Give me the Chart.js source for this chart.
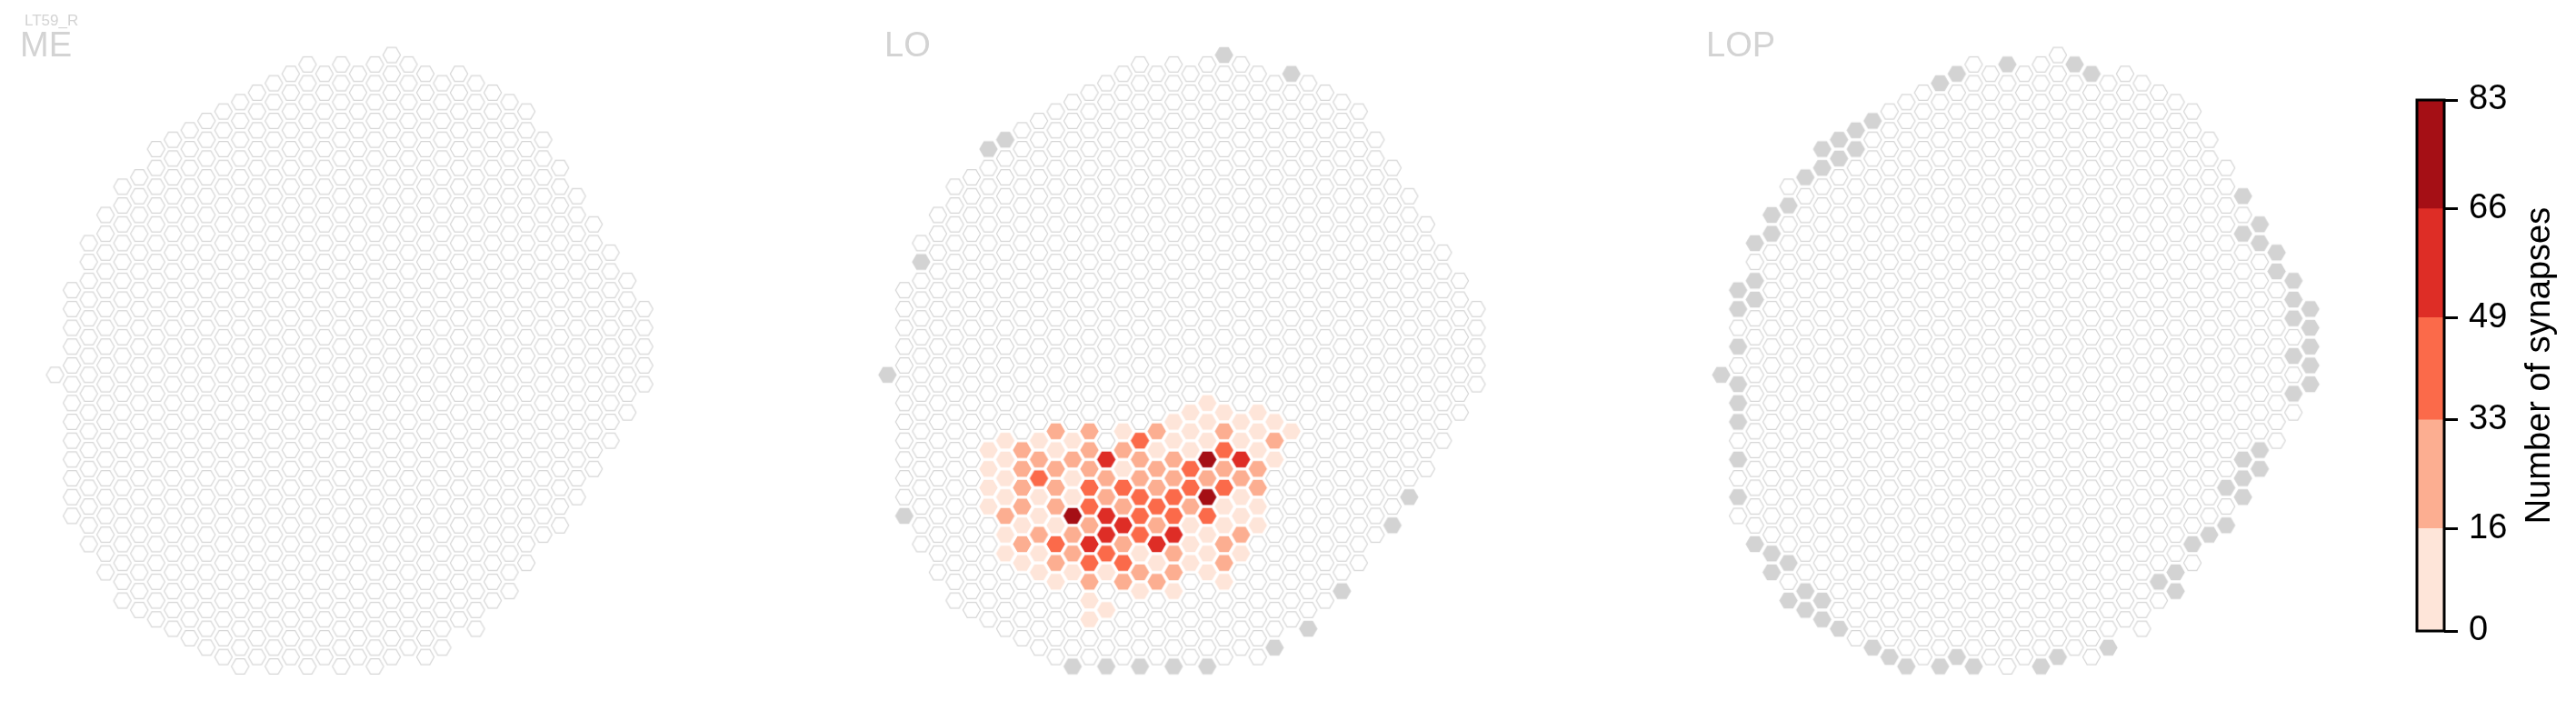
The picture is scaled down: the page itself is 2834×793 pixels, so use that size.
<!DOCTYPE html>
<html>
<head>
<meta charset="utf-8">
<script src="https://cdn.jsdelivr.net/npm/chart.js@4.4.1/dist/chart.umd.min.js"></script>
<style>
  html, body { margin: 0; padding: 0; background: #fff; }
  #wrap { position: relative; width: 2834px; height: 793px; overflow: hidden; }
  #hexes { position: absolute; left: 0; top: 0; }
  #cbar { position: absolute; left: 2600px; top: 0; }
</style>
</head>
<body>
<div id="wrap">
  <canvas id="hexes" width="2834" height="793"></canvas>
  <canvas id="cbar" width="234" height="793"></canvas>
</div>
<script>
// ==================== DATA ====================
const cellType = 'LT59_R';
const panelNames = ['ME', 'LO', 'LOP'];

// hex grid: first and last half-row of each column (left to right)
const colTop = [0, -9, -14, -17, -20, -21, -24, -25, -26, -27, -28, -29, -30, -31, -32, -33, -32, -33,
  -32, -33, -34, -33, -32, -31, -32, -31, -30, -29, -28, -25, -22, -19, -16, -13, -10, -7];
const colBottom = [0, 15, 18, 21, 24, 25, 26, 27, 28, 29, 30, 31, 30, 31, 30, 31, 30, 31,
  30, 31, 30, 29, 30, 29, 26, 27, 24, 23, 20, 17, 16, 13, 10, 7, 4, 1];

// columns not present in a neuropil: [col, halfRow]
const meMissing = [];
const loMissing = [
  [20, -34], [24, -32], [6, -24], [7, -25], [2, -12], [0, 0], [1, 15], [31, 13], [30, 16],
  [27, 23], [25, 27], [23, 29], [11, 31], [13, 31], [15, 31], [17, 31], [19, 31],
];
const lopMissing = [
  [17, -33], [14, -32], [13, -31], [21, -33], [22, -32], [9, -27], [8, -26], [8, -24], [7, -25],
  [7, -23], [6, -24], [6, -22], [5, -21], [4, -18], [3, -17], [3, -15], [2, -14], [2, -10],
  [2, -8], [1, -9], [1, -7], [1, -3], [0, 0], [1, 1], [1, 3], [1, 5], [1, 9], [1, 13],
  [31, -19], [32, -16], [31, -15], [32, -14], [33, -13], [33, -11], [34, -10], [34, -8], [35, -7],
  [34, -6], [35, -5], [35, -3], [34, -2], [35, -1], [35, 1], [34, 2], [32, 8], [31, 9], [32, 10],
  [31, 11], [30, 12], [31, 13], [30, 16], [29, 17], [28, 18], [27, 21], [26, 22], [27, 23],
  [2, 18], [3, 19], [4, 20], [3, 21], [5, 23], [4, 24], [6, 24], [5, 25], [6, 26], [7, 27],
  [9, 29], [10, 30], [11, 31], [13, 31], [14, 30], [15, 31], [19, 31], [20, 30], [23, 29],
];

// synapse counts: [col, halfRow, count]
const meSynapses = [];
const loSynapses = [
  [19, 3, 5],
  [18, 4, 9], [20, 4, 7], [22, 4, 4],
  [17, 5, 11], [19, 5, 8], [21, 5, 12], [23, 5, 6],
  [10, 6, 24], [12, 6, 21], [14, 6, 10], [16, 6, 27], [18, 6, 13], [20, 6, 22], [22, 6, 9], [24, 6, 5],
  [7, 7, 6], [9, 7, 12], [11, 7, 14], [15, 7, 38], [17, 7, 10], [19, 7, 15], [21, 7, 11], [23, 7, 25],
  [6, 8, 8], [8, 8, 23], [10, 8, 13], [12, 8, 20], [14, 8, 26], [16, 8, 9], [18, 8, 14], [20, 8, 41], [22, 8, 7],
  [7, 9, 12], [9, 9, 29], [11, 9, 19], [13, 9, 58], [15, 9, 25], [17, 9, 30], [19, 9, 74], [21, 9, 55], [23, 9, 11],
  [6, 10, 10], [8, 10, 28], [10, 10, 22], [12, 10, 31], [14, 10, 15], [16, 10, 24], [18, 10, 44], [20, 10, 27], [22, 10, 19],
  [7, 11, 9], [9, 11, 39], [11, 11, 14], [13, 11, 26], [15, 11, 30], [17, 11, 21], [19, 11, 28], [21, 11, 23],
  [6, 12, 7], [8, 12, 20], [10, 12, 32], [12, 12, 43], [14, 12, 37], [16, 12, 29], [18, 12, 46], [20, 12, 40], [22, 12, 18],
  [7, 13, 13], [9, 13, 8], [11, 13, 15], [13, 13, 25], [15, 13, 42], [17, 13, 47], [19, 13, 83], [21, 13, 12],
  [6, 14, 11], [8, 14, 22], [10, 14, 27], [12, 14, 36], [14, 14, 30], [16, 14, 45], [18, 14, 24], [20, 14, 10], [22, 14, 8],
  [7, 15, 19], [9, 15, 12], [11, 15, 71], [13, 15, 62], [15, 15, 39], [17, 15, 43], [19, 15, 35], [21, 15, 14],
  [8, 16, 6], [10, 16, 15], [12, 16, 26], [14, 16, 53], [16, 16, 31], [18, 16, 13], [20, 16, 9], [22, 16, 11],
  [7, 17, 12], [9, 17, 21], [11, 17, 28], [13, 17, 60], [15, 17, 44], [17, 17, 50], [19, 17, 15], [21, 17, 20],
  [8, 18, 25], [10, 18, 34], [12, 18, 56], [14, 18, 23], [16, 18, 64], [18, 18, 10], [20, 18, 19],
  [7, 19, 8], [9, 19, 14], [11, 19, 30], [13, 19, 40], [15, 19, 12], [17, 19, 26], [19, 19, 9], [21, 19, 7],
  [8, 20, 10], [10, 20, 22], [12, 20, 37], [14, 20, 48], [16, 20, 14], [18, 20, 13], [20, 20, 29],
  [9, 21, 6], [11, 21, 11], [13, 21, 14], [15, 21, 23], [17, 21, 32], [19, 21, 8],
  [10, 22, 9], [12, 22, 27], [14, 22, 18], [16, 22, 24], [20, 22, 12],
  [15, 23, 10], [17, 23, 7],
  [12, 24, 5],
  [13, 25, 9],
  [12, 26, 4],
];
const lopSynapses = [];

// colorbar
const cbarTicks = [0, 16, 33, 49, 66, 83];
const cbarColors = ['#fee5d9', '#fcae91', '#fb6a4a', '#de2d26', '#a50f15'];
const cbarLabel = 'Number of synapses';

// ==================== LAYOUT ====================
const COL_PX = 18.66;   // px between columns
const ROW_PX = 10.64;   // px per half-row
const GRID_X0 = 50;     // px of column 0 in first panel
const GRID_Y0 = 412.7;  // px of half-row 0
const PANEL_SHIFT = [0, 49.46, 99.0]; // in columns
const W = 2834, H = 793;
const FONT = "'Liberation Sans', Arial, sans-serif";
const TITLE_GRAY = '#d3d3d3';

const missingByPanel = [meMissing, loMissing, lopMissing];
const synapsesByPanel = [meSynapses, loSynapses, lopSynapses];

// ==================== HEX MARKERS ====================
const hexCache = {};
function hexImage(fill, stroke, r) {
  const key = fill + '|' + stroke + '|' + r;
  if (hexCache[key]) return hexCache[key];
  const size = Math.ceil(2 * r + 4);
  const c = document.createElement('canvas');
  c.width = size;
  c.height = size;
  const g = c.getContext('2d');
  g.beginPath();
  for (let i = 0; i < 6; i++) {
    const a = (Math.PI / 3) * i;
    g.lineTo(size / 2 + r * Math.cos(a), size / 2 + r * Math.sin(a));
  }
  g.closePath();
  g.fillStyle = fill;
  g.fill();
  if (stroke) {
    g.strokeStyle = stroke;
    g.lineWidth = 1.2;
    g.stroke();
  }
  hexCache[key] = c;
  return c;
}

function binColor(v) {
  for (let i = 1; i < cbarTicks.length; i++) {
    if (v < cbarTicks[i]) return cbarColors[i - 1];
  }
  return cbarColors[cbarColors.length - 1];
}

function styleOf(cell) {
  if (!cell) return hexImage('#fff', '#d6d6d6', 9.6);
  if (cell.kind === 'missing') return hexImage('#d3d3d3', null, 10.2);
  if (cell.kind === 'count') return hexImage(binColor(cell.v), null, 10.2);
  return hexImage('#fff', '#d6d6d6', 9.6);
}

function buildCells(p) {
  const lookup = {};
  missingByPanel[p].forEach(([c, h]) => (lookup[c + ',' + h] = { kind: 'missing' }));
  synapsesByPanel[p].forEach(([c, h, v]) => (lookup[c + ',' + h] = { kind: 'count', v }));
  const pts = [];
  colTop.forEach((top, c) => {
    for (let h = top; h <= colBottom[c]; h += 2) {
      const info = lookup[c + ',' + h] || { kind: 'empty' };
      pts.push({ x: c + PANEL_SHIFT[p], y: h, kind: info.kind, v: info.v });
    }
  });
  return pts;
}

// ==================== HEX PANELS ====================
const titles = {
  id: 'titles',
  afterDraw(chart) {
    const ctx = chart.ctx;
    ctx.save();
    ctx.fillStyle = TITLE_GRAY;
    ctx.textBaseline = 'alphabetic';
    ctx.textAlign = 'left';
    ctx.font = '17px ' + FONT;
    ctx.fillText(cellType, 27, 28);
    ctx.font = '38px ' + FONT;
    const tx = [22, 973, 1877];
    panelNames.forEach((n, i) => ctx.fillText(n, tx[i], 62));
    ctx.restore();
  },
};

new Chart(document.getElementById('hexes'), {
  type: 'scatter',
  data: {
    datasets: panelNames.map((name, p) => ({
      label: name,
      data: buildCells(p),
      pointStyle: (ctx) => styleOf(ctx.raw),
      pointRadius: 10,
      showLine: false,
    })),
  },
  options: {
    responsive: false,
    devicePixelRatio: 1,
    animation: false,
    events: [],
    layout: { padding: 0 },
    plugins: { legend: { display: false }, tooltip: { enabled: false } },
    scales: {
      x: { type: 'linear', display: false, min: -GRID_X0 / COL_PX, max: (W - GRID_X0) / COL_PX },
      y: { type: 'linear', display: false, reverse: true, min: -GRID_Y0 / ROW_PX, max: (H - GRID_Y0) / ROW_PX },
    },
  },
  plugins: [titles],
});

// ==================== COLORBAR ====================
const cbarFrame = {
  id: 'cbarFrame',
  afterDraw(chart) {
    const { ctx, chartArea: a } = chart;
    ctx.save();
    ctx.strokeStyle = '#000';
    ctx.lineWidth = 3;
    ctx.strokeRect(a.left, a.top, a.right - a.left, a.bottom - a.top);
    ctx.translate(195, (a.top + a.bottom) / 2);
    ctx.rotate(-Math.PI / 2);
    ctx.fillStyle = '#000';
    ctx.font = '38px ' + FONT;
    ctx.textAlign = 'center';
    ctx.textBaseline = 'middle';
    ctx.fillText(cbarLabel, 0, 0);
    ctx.restore();
  },
};

new Chart(document.getElementById('cbar'), {
  type: 'bar',
  data: {
    labels: [''],
    datasets: cbarColors.map((col, i) => ({
      data: [cbarTicks[i + 1] - cbarTicks[i]],
      backgroundColor: col,
      borderWidth: 0,
      categoryPercentage: 1,
      barPercentage: 1,
    })),
  },
  options: {
    responsive: false,
    devicePixelRatio: 1,
    animation: false,
    events: [],
    layout: { padding: { left: 59, top: 110, bottom: 99, right: 0 } },
    plugins: { legend: { display: false }, tooltip: { enabled: false } },
    scales: {
      x: { stacked: true, display: false },
      y: {
        stacked: true,
        position: 'right',
        min: 0,
        max: 83,
        afterBuildTicks: (s) => { s.ticks = cbarTicks.map((v) => ({ value: v })); },
        afterFit: (s) => { s.width = 145; },
        grid: { drawOnChartArea: false, drawTicks: true, tickLength: 15, lineWidth: 3, color: '#000' },
        border: { display: false },
        ticks: { color: '#000', font: { family: FONT, size: 38 }, padding: 12 },
      },
    },
  },
  plugins: [cbarFrame],
});
</script>
</body>
</html>
